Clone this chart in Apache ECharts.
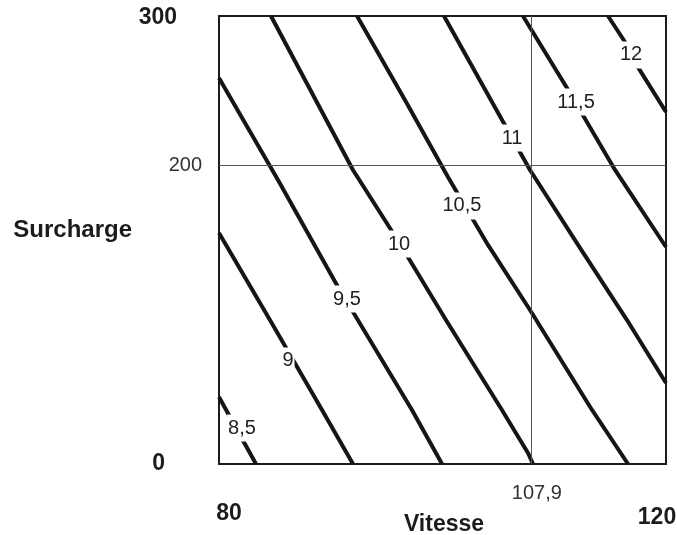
<!DOCTYPE html>
<html>
<head>
<meta charset="utf-8">
<script src="https://cdn.jsdelivr.net/npm/echarts@6/dist/echarts.min.js"></script>
<style>
  html, body { margin: 0; padding: 0; background: #fff; }
  #chart { width: 677px; height: 535px; }
</style>
</head>
<body>
<div id="chart"></div>
<script>
// Iso-lines of the result as a function of speed (Vitesse) and overload (Surcharge)
const levels = ['8,5', '9', '9,5', '10', '10,5', '11', '11,5', '12'];

const iso85  = [[80, 44.9], [83.31, 0]];
const iso9   = [[80, 154.7], [84.56, 96.4], [89.22, 36.2], [91.99, 0]];
const iso95  = [[80, 258.5], [85.28, 190.2], [90.65, 118.5], [97.27, 36.2], [99.96, 0]];
const iso10  = [[84.65, 300], [91.99, 196.9], [96.20, 147.3], [100.31, 96.4], [105.32, 36.2], [107.65, 7.4], [108.10, 0]];
const iso105 = [[92.35, 300], [96.64, 243.8], [100.49, 192.2], [104.07, 146.7], [107.83, 103.1], [113.38, 36.2], [116.60, 0]];
const iso11  = [[100.13, 300], [107.83, 196.9], [112.13, 146.7], [116.51, 96.4], [120, 54.2]];
const iso115 = [[107.20, 300], [111.14, 251.8], [115.44, 196.9], [120, 145.3]];
const iso12  = [[114.81, 300], [116.33, 282.6], [117.49, 265.8], [120, 235.7]];
const isoLines = [iso85, iso9, iso95, iso10, iso105, iso11, iso115, iso12];

// where each level is written along its line
const labelSpots = [[82.06, 24.1], [86.17, 69.0], [91.45, 110.5], [96.11, 147.3],
                    [101.74, 172.8], [106.22, 218.3], [111.95, 242.4], [116.87, 273.9]];

const xTicks = [80, 107.9, 120];
const yTicks = [0, 200, 300];
const refSpeed = 107.9;
const refLoad = 200;

const FONT = '"Liberation Sans", Arial, Helvetica, sans-serif';
const INK = '#1c1c1c';

const chart = echarts.init(document.getElementById('chart'), null, { renderer: 'canvas' });

const lineSeries = isoLines.map((pts, i) => ({
  name: levels[i],
  type: 'line',
  data: pts,
  showSymbol: false,
  symbol: 'none',
  smooth: false,
  silent: true,
  z: 3,
  lineStyle: { color: '#151515', width: 4, cap: 'butt', join: 'round' }
}));

const refSeries = {
  type: 'line',
  data: [],
  silent: true,
  z: 2,
  markLine: {
    symbol: 'none',
    silent: true,
    label: { show: false },
    lineStyle: { color: '#555', width: 1, type: 'solid' },
    data: [{ xAxis: refSpeed }, { yAxis: refLoad }]
  }
};

const labelSeries = {
  type: 'scatter',
  data: labelSpots.map((p, i) => ({ value: p, name: levels[i] })),
  symbolSize: 1,
  silent: true,
  z: 5,
  itemStyle: { opacity: 1, color: '#fff' },
  label: {
    show: true,
    position: 'inside',
    formatter: p => p.name,
    fontFamily: FONT,
    fontSize: 20,
    color: '#222',
    textBorderWidth: 0,
    backgroundColor: '#fff',
    padding: [4, 1, 3, 1]
  }
};

chart.setOption({
  animation: false,
  backgroundColor: '#fff',
  grid: {
    left: 219, top: 16, right: 11, bottom: 71,
    containLabel: false, outerBoundsMode: 'none',
    show: true, borderColor: INK, borderWidth: 2, backgroundColor: 'transparent'
  },
  xAxis: {
    type: 'value', min: 80, max: 120,
    name: 'Vitesse', nameLocation: 'middle', nameGap: 49, nameMoveOverlap: false,
    nameTextStyle: { fontFamily: FONT, fontWeight: 'bold', fontSize: 23, color: INK, padding: [0, 0, 0, 3] },
    axisLine: { show: false }, axisTick: { show: false }, splitLine: { show: false },
    axisLabel: {
      customValues: xTicks,
      margin: 0,
      formatter: v => {
        if (v === 80) return '{l|80}';
        if (v === 120) return '{r|120}';
        return '{m|' + String(v).replace('.', ',') + '}';
      },
      rich: {
        l: { fontFamily: FONT, fontWeight: 'bold', fontSize: 23, color: INK, padding: [38, 0, 0, 20] },
        m: { fontFamily: FONT, fontSize: 20, color: '#333', padding: [19, 0, 0, 12] },
        r: { fontFamily: FONT, fontWeight: 'bold', fontSize: 23, color: INK, padding: [42, 18, 0, 0] }
      }
    }
  },
  yAxis: {
    type: 'value', min: 0, max: 300,
    name: 'Surcharge', nameLocation: 'middle', nameGap: 87, nameRotate: 0, nameMoveOverlap: false,
    nameTextStyle: { fontFamily: FONT, fontWeight: 'bold', fontSize: 24, color: INK,
                     verticalAlign: 'bottom', lineHeight: 20 },
    axisLine: { show: false }, axisTick: { show: false }, splitLine: { show: false },
    axisLabel: {
      customValues: yTicks,
      margin: 0,
      formatter: v => {
        if (v === 300) return '{t|300}';
        if (v === 0) return '{b|0}';
        return '{m|' + v + '}';
      },
      rich: {
        t: { fontFamily: FONT, fontWeight: 'bold', fontSize: 23, color: INK, padding: [4, 42, 0, 0] },
        m: { fontFamily: FONT, fontSize: 20, color: '#333', padding: [0, 17, 0, 0] },
        b: { fontFamily: FONT, fontWeight: 'bold', fontSize: 23, color: INK, padding: [0, 54, 0, 0] }
      }
    }
  },
  series: [refSeries, ...lineSeries, labelSeries]
});
</script>
</body>
</html>
